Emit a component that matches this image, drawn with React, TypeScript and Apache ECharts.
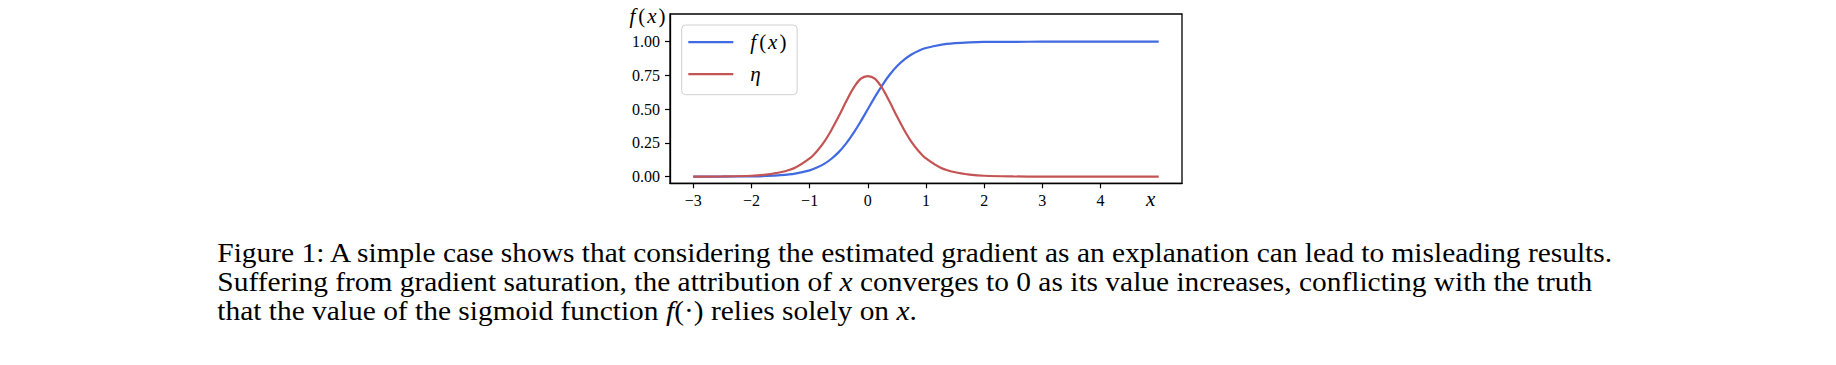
import React, { useEffect, useRef } from "react";
import * as echarts from "echarts";

// x positions sampled from the figure
const X_VALUES = [-3, -2.5, -2, -1.75, -1.5, -1.25, -1, -0.875, -0.75, -0.625, -0.5, -0.375, -0.25, -0.125, 0, 0.125, 0.25, 0.375, 0.5, 0.625, 0.75, 0.875, 1, 1.25, 1.5, 1.75, 2, 2.5, 3, 3.5, 4, 4.5, 5];
// f(x) curve (blue)
const F_VALUES = [0.0, 0.001, 0.002, 0.005, 0.011, 0.023, 0.047, 0.068, 0.095, 0.133, 0.182, 0.245, 0.321, 0.407, 0.5, 0.593, 0.679, 0.755, 0.818, 0.867, 0.905, 0.933, 0.953, 0.977, 0.989, 0.995, 0.998, 0.999, 1.0, 1.0, 1.0, 1.0, 1.0];
// eta curve (red)
const ETA_VALUES = [0.0, 0.002, 0.007, 0.016, 0.033, 0.067, 0.135, 0.189, 0.258, 0.346, 0.447, 0.555, 0.654, 0.724, 0.745, 0.724, 0.654, 0.555, 0.447, 0.346, 0.258, 0.189, 0.135, 0.067, 0.033, 0.016, 0.007, 0.002, 0.0, 0.0, 0.0, 0.0, 0.0];

const X_TICKS = [-3, -2, -1, 0, 1, 2, 3, 4];
const Y_TICKS = [0, 0.25, 0.5, 0.75, 1.0];

const CAPTION_LINES = [
  "Figure 1: A simple case shows that considering the estimated gradient as an explanation can lead to misleading results.",
  "Suffering from gradient saturation, the attribution of {m|x} converges to 0 as its value increases, conflicting with the truth",
  "that the value of the sigmoid function {m|f}(·) relies solely on {m|x}.",
];

const SERIF = "'Liberation Serif', 'DejaVu Serif', serif";

const mathRich = (size: number) => ({
  f: { fontFamily: SERIF, fontStyle: "italic", fontSize: size, fill: "#000", color: "#000", padding: [0, 3, 0, 0] },
  x: { fontFamily: SERIF, fontStyle: "italic", fontSize: size, fill: "#000", color: "#000", padding: [0, 2, 0, 2] },
  i: { fontFamily: SERIF, fontStyle: "italic", fontSize: size, fill: "#000", color: "#000" },
  n: { fontFamily: SERIF, fontSize: size, fill: "#000", color: "#000" },
});

export default function App() {
  const ref = useRef<HTMLDivElement>(null);

  useEffect(() => {
    const chart = echarts.init(ref.current!, null, { renderer: "svg" });
    const fData = X_VALUES.map((x, i) => [x, F_VALUES[i]]);
    const eData = X_VALUES.map((x, i) => [x, ETA_VALUES[i]]);

    const captionScale = 1.09;
    const captionY = [253, 282, 311];

    const option: any = {
      animation: false,
      backgroundColor: "#ffffff",
      grid: {
        left: 670,
        top: 14,
        width: 512,
        height: 169.3,
        show: true,
        borderColor: "#000",
        borderWidth: 1.3,
        backgroundColor: "transparent",
      },
      xAxis: {
        type: "value",
        min: -3.4,
        max: 5.4,
        axisLine: { show: true, onZero: false, lineStyle: { color: "#000", width: 1.3 } },
        axisTick: { show: true, customValues: X_TICKS, length: 5, lineStyle: { color: "#000", width: 1.2 } },
        axisLabel: {
          customValues: X_TICKS,
          margin: 9,
          color: "#000",
          fontFamily: SERIF,
          fontSize: 16,
          formatter: (v: number) => (v < 0 ? "\u2212" + Math.abs(v) : String(v)),
        },
        splitLine: { show: false },
      },
      yAxis: {
        type: "value",
        min: -0.0489,
        max: 1.2052,
        axisLine: { show: true, onZero: false, lineStyle: { color: "#000", width: 1.3 } },
        axisTick: { show: true, customValues: Y_TICKS, length: 5, lineStyle: { color: "#000", width: 1.2 } },
        axisLabel: {
          customValues: Y_TICKS,
          margin: 10,
          color: "#000",
          fontFamily: SERIF,
          fontSize: 16,
          formatter: (v: number) => v.toFixed(2),
        },
        splitLine: { show: false },
      },
      legend: {
        orient: "vertical",
        left: 681.7,
        top: 25,
        data: [
          { name: "f(x)", icon: "rect" },
          { name: "η", icon: "rect" },
        ],
        backgroundColor: "#fff",
        borderColor: "#d0d0d0",
        borderWidth: 1,
        borderRadius: 4,
        padding: [6.7, 10.7, 10, 6.6],
        itemWidth: 45,
        itemHeight: 2.2,
        itemGap: 11,
        formatter: (name: string) => (name === "f(x)" ? "{f|f}{n|(}{x|x}{n|)}" : "{i|η}"),
        textStyle: {
          color: "#000",
          fontFamily: SERIF,
          fontSize: 21,
          lineHeight: 20,
          padding: [0, 0, 0, 12],
          rich: mathRich(21),
        },
      },
      series: [
        {
          name: "f(x)",
          type: "line",
          data: fData,
          symbol: "none",
          smooth: 0.3,
          lineStyle: { color: "#4169E1", width: 2.2 },
          itemStyle: { color: "#4169E1" },
        },
        {
          name: "η",
          type: "line",
          data: eData,
          symbol: "none",
          smooth: 0.3,
          lineStyle: { color: "#C45454", width: 2.2 },
          itemStyle: { color: "#C45454" },
        },
      ],
      graphic: [
        {
          type: "text",
          x: 647.5,
          y: 16,
          style: {
            text: "{f|f}{n|(}{x|x}{n|)}",
            align: "center",
            verticalAlign: "middle",
            fill: "#000",
            rich: mathRich(21),
          },
        },
        {
          type: "text",
          x: 1150.7,
          y: 199,
          style: {
            text: "x",
            align: "center",
            verticalAlign: "middle",
            fill: "#000",
            fontFamily: SERIF,
            fontStyle: "italic",
            fontSize: 21,
          },
        },
        ...CAPTION_LINES.map((line, i) => ({
          type: "text",
          x: 217.3,
          y: captionY[i],
          scaleX: captionScale,
          style: {
            text: line,
            align: "left",
            verticalAlign: "middle",
            fill: "#000",
            fontFamily: SERIF,
            fontSize: 27,
            rich: {
              m: { fontFamily: SERIF, fontStyle: "italic", fontSize: 27, fill: "#000" },
            },
          },
        })),
      ],
    };

    chart.setOption(option);
    return () => chart.dispose();
  }, []);

  return (
    <div
      ref={ref}
      style={{ position: "absolute", left: 0, top: 0, width: 1836, height: 365, background: "#fff" }}
    />
  );
}
